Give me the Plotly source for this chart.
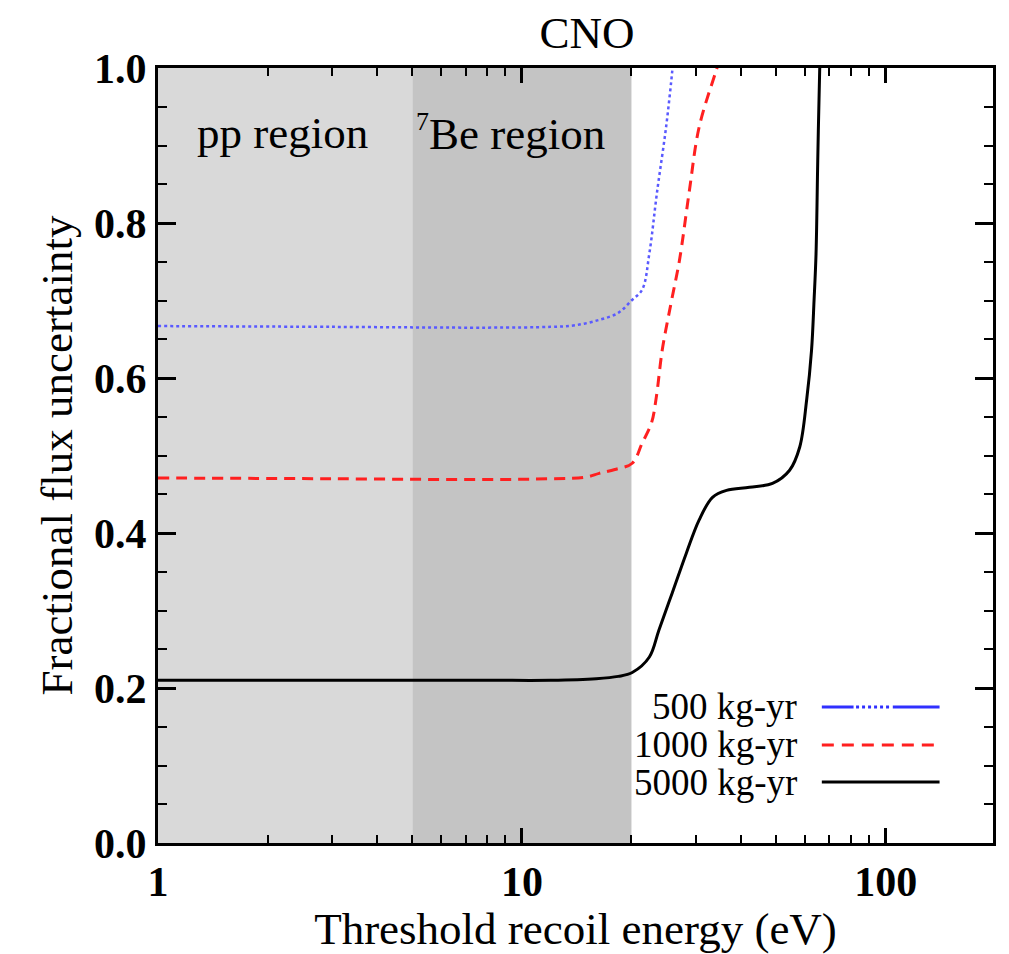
import plotly.graph_objects as go

# ---- data ----
x_500 = [1, 3, 8, 12, 14, 16.3, 18.4, 20.0, 21.4, 22.4, 23.5, 24.9, 25.9, 26.5]
y_500 = [0.667, 0.666, 0.665, 0.666, 0.668, 0.675, 0.684, 0.700, 0.714, 0.761, 0.839, 0.924, 0.997, 1.05]

x_1000 = [1, 3, 8, 12, 15, 16.3, 18.0, 20.1, 21.4, 22.7, 23.4, 24.3, 25.7, 27.1, 28.8, 30.7, 34.2, 36.0]
y_1000 = [0.471, 0.470, 0.469, 0.470, 0.472, 0.477, 0.482, 0.490, 0.516, 0.542, 0.575, 0.636, 0.697, 0.752, 0.839, 0.924, 0.997, 1.03]

x_5000 = [1, 3, 8, 12, 16, 18.4, 20.1, 22.4, 23.8, 25.9, 28.3, 30.7, 33.4, 36.5, 42.2, 48.8, 54.4, 58.0,
          60.6, 62.5, 63.5, 64.3, 65.0, 65.8, 66.5]
y_5000 = [0.210, 0.210, 0.210, 0.210, 0.212, 0.215, 0.220, 0.240, 0.275, 0.323, 0.374, 0.417, 0.446, 0.455,
          0.459, 0.464, 0.481, 0.511, 0.572, 0.636, 0.700, 0.760, 0.880, 0.997, 1.05]

series_names = ["500 kg-yr", "1000 kg-yr", "5000 kg-yr"]
regions = [(1, 5, "pp region"), (5, 20, "<sup><span style='font-size:26px'>7</span></sup>Be region")]
x_tickvals = [1, 10, 100]
x_ticktext = ["1", "10", "100"]
y_tickvals = [0.0, 0.2, 0.4, 0.6, 0.8, 1.0]

FONT = "Liberation Serif"

fig = go.Figure()

# shaded regions
fig.add_vrect(x0=regions[0][0], x1=regions[0][1], fillcolor="#d9d9d9", line_width=0, layer="below")
fig.add_vrect(x0=regions[1][0], x1=regions[1][1], fillcolor="#c4c4c4", line_width=0, layer="below")

fig.add_trace(go.Scatter(x=x_500, y=y_500, mode="lines", name=series_names[0],
                         line=dict(color="#5a5aff", width=2.5, dash="dot", shape="spline", smoothing=1.0),
                         showlegend=False))
fig.add_trace(go.Scatter(x=x_1000, y=y_1000, mode="lines", name=series_names[1],
                         line=dict(color="#ff2020", width=3, dash="11px,7px", shape="spline", smoothing=1.0),
                         showlegend=False))
fig.add_trace(go.Scatter(x=x_5000, y=y_5000, mode="lines", name=series_names[2],
                         line=dict(color="black", width=3, shape="spline", smoothing=1.0),
                         showlegend=False))

# region labels
fig.add_annotation(text=regions[0][2], xref="paper", yref="paper", x=0.149, y=0.916,
                   xanchor="center", yanchor="middle",
                   showarrow=False, font=dict(family=FONT, size=45, color="black"))
fig.add_annotation(text=regions[1][2], xref="paper", yref="paper", x=0.4226, y=0.916,
                   xanchor="center", yanchor="middle",
                   showarrow=False, font=dict(family=FONT, size=45, color="black"))

# custom legend: text right-aligned, sample line on the right
leg_y = [0.1755, 0.1265, 0.0787]
for name, yy in zip(series_names, leg_y):
    fig.add_annotation(text=name, xref="paper", yref="paper", x=0.768, y=yy,
                       xanchor="right", yanchor="middle",
                       showarrow=False, font=dict(family=FONT, size=37, color="black"))
# blue sample: solid - dotted - solid
fig.add_shape(type="line", xref="paper", yref="paper", x0=0.795, x1=0.833, y0=leg_y[0], y1=leg_y[0],
              line=dict(color="#3030ff", width=3))
fig.add_shape(type="line", xref="paper", yref="paper", x0=0.836, x1=0.876, y0=leg_y[0], y1=leg_y[0],
              line=dict(color="#3030ff", width=3, dash="dot"))
fig.add_shape(type="line", xref="paper", yref="paper", x0=0.880, x1=0.936, y0=leg_y[0], y1=leg_y[0],
              line=dict(color="#3030ff", width=3))
fig.add_shape(type="line", xref="paper", yref="paper", x0=0.795, x1=0.936, y0=leg_y[1], y1=leg_y[1],
              line=dict(color="#ff2020", width=3, dash="12px,8px"))
fig.add_shape(type="line", xref="paper", yref="paper", x0=0.795, x1=0.936, y0=leg_y[2], y1=leg_y[2],
              line=dict(color="black", width=3))

fig.update_layout(
    width=1009, height=954,
    margin=dict(l=158, r=16, t=68, b=111),
    paper_bgcolor="white", plot_bgcolor="white",
    title=dict(text="CNO", x=587 / 1009, xanchor="center", y=1 - 32 / 954, yanchor="middle",
               xref="container", yref="container", font=dict(family=FONT, size=45, color="black")),
    font=dict(family=FONT, color="black"),
)

fig.update_xaxes(
    type="log", range=[0, 2.2945],
    tickvals=x_tickvals, ticktext=x_ticktext,
    ticks="inside", ticklen=15, tickwidth=2.5, tickcolor="black",
    minor=dict(ticks="inside", ticklen=8, tickwidth=2, tickcolor="black", dtick="D1", showgrid=False),
    showline=True, linewidth=3, linecolor="black", mirror="allticks",
    showgrid=False, zeroline=False,
    tickfont=dict(family=FONT, size=42, color="black", weight="bold"),
    title=dict(text="Threshold recoil energy (eV)", font=dict(family=FONT, size=45, color="black"),
               standoff=6),
)
fig.update_yaxes(
    range=[0, 1.0],
    tickvals=y_tickvals, tickformat=".1f",
    ticks="inside", ticklen=18, tickwidth=2.5, tickcolor="black",
    minor=dict(ticks="inside", ticklen=9, tickwidth=2, tickcolor="black", dtick=0.05, showgrid=False),
    showline=True, linewidth=3, linecolor="black", mirror="allticks",
    showgrid=False, zeroline=False,
    tickfont=dict(family=FONT, size=42, color="black", weight="bold"),
    title=dict(text="Fractional flux uncertainty", font=dict(family=FONT, size=45, color="black"),
               standoff=8),
)

fig.write_html("out.html")
